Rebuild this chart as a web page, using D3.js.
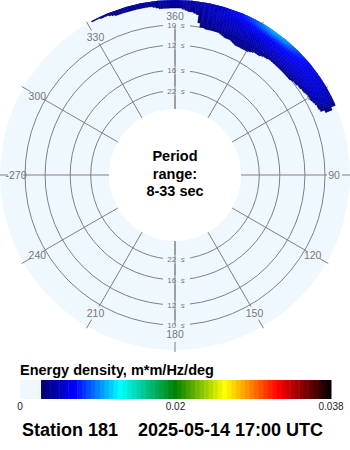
<!DOCTYPE html>
<html>
<head>
<meta charset="utf-8">
<script src="https://cdn.jsdelivr.net/npm/d3@7"></script>
<style>
  body { margin: 0; background: #fff; }
  svg { display: block; font-family: "Liberation Sans", Arial, sans-serif; }
</style>
</head>
<body>
<div id="chart"></div>
<script>
const station = "Station 181";
const stamp = "2025-05-14 17:00 UTC";
const periodRange = [8, 33];
const ringPeriods = [22, 16, 12, 10];
const spokeAngles = [0, 30, 60, 90, 120, 150, 180, 210, 240, 270, 300, 330];
const spokeLabels = ["360", "30", "60", "90", "120", "150", "180", "210", "240", "-270", "300", "330"];

// direction bins (deg, clockwise from north), 5 deg wide
const directions = [-30, -25, -20, -15, -10, -5, 0, 5, 10, 15, 20, 25, 30, 35, 40, 45, 50, 55, 60, 65];
// frequency bins (Hz), high to low
const frequencies = [0.12, 0.1175, 0.115, 0.1125, 0.11, 0.1075, 0.105, 0.1025, 0.1, 0.0975, 0.095];
// energy density in 1e-3 m*m/Hz/deg, one row per frequency
const energy = [
  [2.3, 3.4, 3.6, 3.8, 3.9, 4.0, 4.1, 4.2, 4.6, 5.2, 6.2, 7.6, 9.2, 10.4, 10.0, 8.2, 6.6, 5.6, 4.8, 4.0],
  [0, 0, 3.3, 3.6, 3.7, 3.9, 4.0, 4.1, 4.5, 5.2, 6.0, 7.2, 8.4, 9.2, 8.8, 7.4, 6.4, 5.8, 5.2, 4.2],
  [0, 0, 0, 0, 0, 3.6, 3.7, 3.9, 4.4, 5.0, 5.6, 6.4, 7.2, 7.6, 7.4, 6.8, 6.2, 5.8, 5.4, 4.4],
  [0, 0, 0, 0, 0, 0, 0, 3.6, 4.2, 4.8, 5.2, 5.8, 6.4, 6.6, 6.6, 6.2, 5.8, 5.8, 5.4, 4.4],
  [0, 0, 0, 0, 0, 0, 0, 0, 4.0, 4.6, 5.0, 5.4, 5.8, 6.0, 6.0, 5.8, 5.6, 5.6, 5.2, 4.2],
  [0, 0, 0, 0, 0, 0, 0, 0, 3.8, 4.4, 4.6, 5.0, 5.2, 5.4, 5.4, 5.4, 5.4, 5.2, 4.8, 3.9],
  [0, 0, 0, 0, 0, 0, 0, 0, 3.5, 4.1, 4.4, 4.6, 4.8, 5.0, 5.0, 5.0, 4.8, 4.6, 4.2, 0],
  [0, 0, 0, 0, 0, 0, 0, 0, 3.1, 3.8, 4.1, 4.2, 4.4, 4.5, 4.6, 4.4, 4.2, 3.8, 0, 0],
  [0, 0, 0, 0, 0, 0, 0, 0, 2.8, 3.6, 3.8, 3.9, 4.0, 4.0, 3.9, 3.8, 3.6, 0, 0, 0],
  [0, 0, 0, 0, 0, 0, 0, 0, 0, 0, 3.5, 3.6, 3.6, 3.5, 0, 0, 0, 0, 0, 0],
  [0, 0, 0, 0, 0, 0, 0, 0, 0, 0, 0, 3.4, 3.4, 0, 0, 0, 0, 0, 0, 0]
];

// colour bar
const cbTicks = ["0", "0.02", "0.038"];
const cbMax = 0.038;
const cbStops = [0.00257, 0.0067, 0.0122, 0.019, 0.025, 0.0315, 0.038];
const cbColors = ["#00006e", "#0000ff", "#00ffff", "#008000", "#ffff00", "#ff0000", "#000000"];

const W = 350, H = 450, cx = 175, cy = 175;
const bg = "aliceblue", grid = "#808080", labelCol = "#777";

const svg = d3.select("#chart").append("svg")
  .attr("width", W)
  .attr("height", H);

const rScale = d3.scaleLinear()
  .domain([1 / periodRange[1], 1 / ringPeriods[ringPeriods.length - 1]])
  .range([66, 150]);
const aScale = d3.scaleLinear().domain([0, 360]).range([0, 2 * Math.PI]);
const color = d3.scaleLinear().domain(cbStops).range(cbColors).clamp(true);
const px = (r, deg) => r * Math.sin(aScale(deg));
const py = (r, deg) => -r * Math.cos(aScale(deg));

svg.append("defs").append("clipPath").attr("id", "disk")
  .append("circle").attr("r", 175);

const g = svg.append("g").attr("transform", `translate(${cx},${cy})`);

g.append("circle").attr("r", 175).attr("fill", bg);
g.append("circle").attr("r", rScale(1 / periodRange[1])).attr("fill", "#fff");

// rings
g.selectAll(".ring")
  .data(ringPeriods)
  .enter()
  .append("circle")
  .attr("class", "ring")
  .attr("r", d => rScale(1 / d))
  .attr("fill", "none")
  .attr("stroke", grid)
  .attr("stroke-width", 1);

// spokes
const rIn = rScale(1 / periodRange[1]);
const rOut = rScale(1 / ringPeriods[ringPeriods.length - 1]);
g.selectAll(".spoke")
  .data(spokeAngles)
  .enter()
  .append("line")
  .attr("x1", d => px(rIn, d)).attr("y1", d => py(rIn, d))
  .attr("x2", d => px(rOut + 2, d)).attr("y2", d => py(rOut + 2, d))
  .attr("stroke", grid);

g.selectAll(".tick")
  .data(spokeAngles)
  .enter()
  .append("line")
  .attr("x1", d => px(167, d)).attr("y1", d => py(167, d))
  .attr("x2", d => px(177, d)).attr("y2", d => py(177, d))
  .attr("stroke", grid);

g.selectAll(".alabel")
  .data(spokeAngles)
  .enter()
  .append("text")
  .attr("x", d => px(159, d))
  .attr("y", d => py(159, d))
  .attr("text-anchor", "middle")
  .attr("dominant-baseline", "central")
  .attr("font-size", 10.5)
  .attr("fill", labelCol)
  .text((d, i) => spokeLabels[i]);

// energy: bins shaded smoothly (bilinear between bin centres)
const df = frequencies[0] - frequencies[1];
const dd = directions[1] - directions[0];
function sample(d, f) {
  const jf = (d - directions[0]) / dd;
  const iff = Math.max(0, (frequencies[0] - f) / df);
  const j0 = Math.floor(jf), i0 = Math.floor(iff);
  const tj = jf - j0, ti = iff - i0;
  const at = (i, j) => (i >= 0 && i < frequencies.length && j >= 0 && j < directions.length) ? energy[i][j] : 0;
  return ((at(i0, j0) * (1 - tj) + at(i0, j0 + 1) * tj) * (1 - ti)
        + (at(i0 + 1, j0) * (1 - tj) + at(i0 + 1, j0 + 1) * tj) * ti) / 1000;
}
const rLo = Math.floor(rScale(frequencies[frequencies.length - 1] - df));
const angs = d3.range(directions[0] - dd / 2, directions[directions.length - 1] + dd / 2, 1);
const rads = d3.range(rLo, 176, 1);
const cells = [];
angs.forEach(a => rads.forEach(r => {
  const v = sample(a + 0.5, rScale.invert(r + 0.5));
  if (v >= cbStops[0]) cells.push({ a, r, v });
}));
const arc = d3.arc();
g.append("g").attr("clip-path", "url(#disk)")
  .selectAll("path")
  .data(cells)
  .enter()
  .append("path")
  .attr("d", c => arc({
    innerRadius: c.r,
    outerRadius: c.r + 1,
    startAngle: aScale(c.a),
    endAngle: aScale(c.a + 1)
  }))
  .attr("fill", c => color(c.v))
  .attr("stroke", c => color(c.v))
  .attr("stroke-width", 0.5);

// ring labels, top and bottom
const ringLab = [];
ringPeriods.forEach(p => { ringLab.push({ p, s: -1 }); ringLab.push({ p, s: 1 }); });
g.selectAll(".rbg")
  .data(ringLab)
  .enter()
  .append("rect")
  .attr("x", -12)
  .attr("y", d => d.s * rScale(1 / d.p) - 4.5)
  .attr("width", 27)
  .attr("height", 9)
  .attr("fill", bg);
g.append("line")
  .attr("x1", 0).attr("y1", -rIn).attr("x2", 0).attr("y2", -rOut)
  .attr("stroke", grid);
g.append("line")
  .attr("x1", 0).attr("y1", rIn).attr("x2", 0).attr("y2", rOut)
  .attr("stroke", grid);
const rl = g.selectAll(".rlab")
  .data(ringLab)
  .enter()
  .append("text")
  .attr("x", 1)
  .attr("y", d => d.s * rScale(1 / d.p))
  .attr("text-anchor", "middle")
  .attr("dominant-baseline", "central")
  .attr("font-size", 8)
  .attr("fill", labelCol)
  .attr("xml:space", "preserve");
rl.append("tspan").text(d => d.p + "  ");
rl.append("tspan").attr("font-style", "italic").text("s");

// centre text
g.selectAll(".ctext")
  .data(["Period", "range:", `${periodRange[0]}-${periodRange[1]} sec`])
  .enter()
  .append("text")
  .attr("x", 0)
  .attr("y", (d, i) => -14 + i * 17.5)
  .attr("text-anchor", "middle")
  .attr("font-weight", "bold")
  .attr("font-size", 14.5)
  .attr("fill", "#000")
  .text(d => d);

// colour bar
const xBar = d3.scaleLinear().domain([0, cbMax]).range([20, 331]);
const nSteps = 64;
const step = (cbMax - cbStops[0]) / nSteps;
const steps = d3.range(nSteps).map(i => cbStops[0] + i * step);

svg.append("text")
  .attr("x", 20).attr("y", 375)
  .attr("font-weight", "bold")
  .attr("font-size", 14.5)
  .text("Energy density, m*m/Hz/deg");

svg.append("rect")
  .attr("x", xBar(0)).attr("y", 380)
  .attr("width", xBar(cbStops[0]) - xBar(0)).attr("height", 19)
  .attr("fill", bg);

svg.selectAll(".cb")
  .data(steps)
  .enter()
  .append("rect")
  .attr("x", d => xBar(d))
  .attr("y", 380)
  .attr("width", xBar(step) - xBar(0) + 0.5)
  .attr("height", 19)
  .attr("fill", d => color(d + step / 2));

const xTick = d3.scalePoint().domain(cbTicks).range([20, 331]);
svg.selectAll(".cbt")
  .data(cbTicks)
  .enter()
  .append("text")
  .attr("x", d => xTick(d))
  .attr("y", 410)
  .attr("text-anchor", "middle")
  .attr("font-size", 10)
  .attr("fill", "#222")
  .text(d => d);

svg.append("text")
  .attr("x", 22).attr("y", 436)
  .attr("font-weight", "bold")
  .attr("font-size", 18)
  .text(station);
svg.append("text")
  .attr("x", 138).attr("y", 436)
  .attr("font-weight", "bold")
  .attr("font-size", 18)
  .text(stamp);
</script>
</body>
</html>
